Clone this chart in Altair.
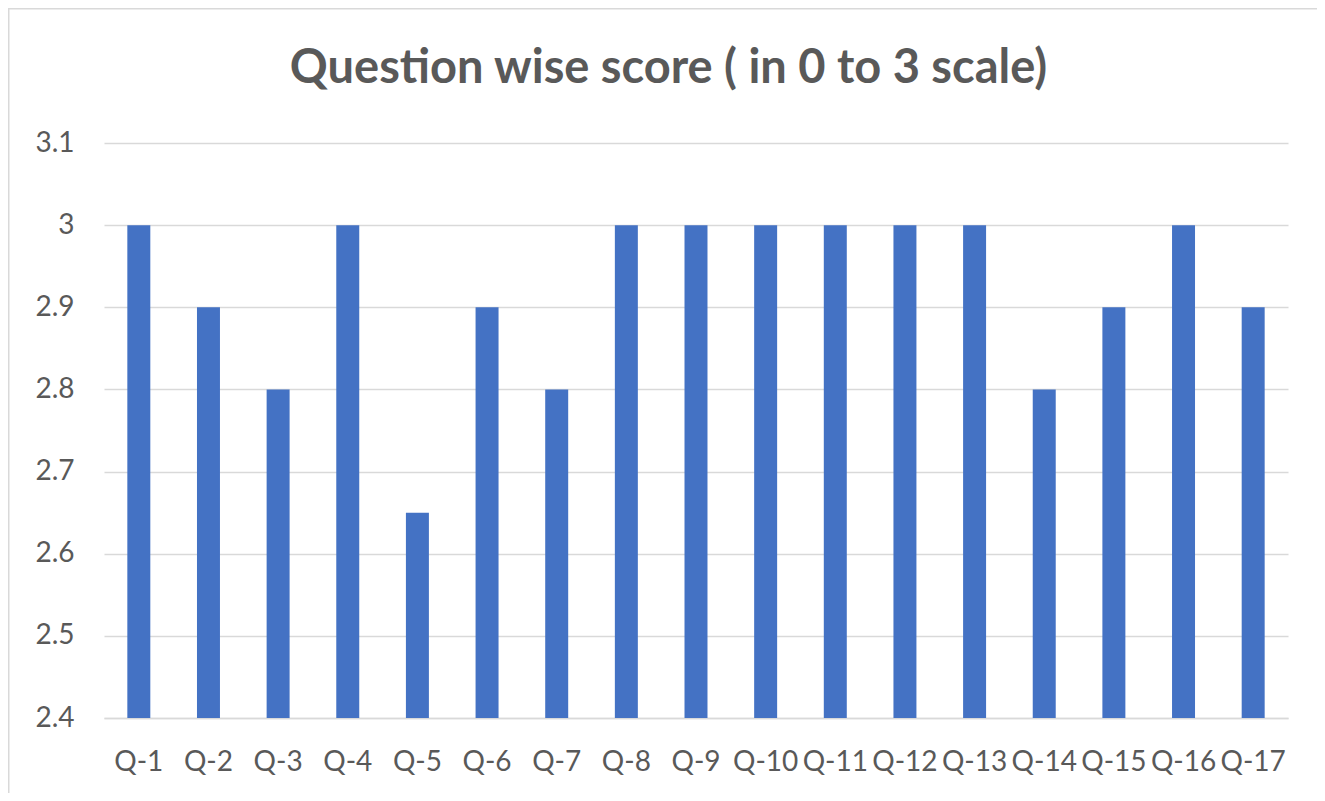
import altair as alt
import pandas as pd

questions = ["Q-1", "Q-2", "Q-3", "Q-4", "Q-5", "Q-6", "Q-7", "Q-8", "Q-9",
             "Q-10", "Q-11", "Q-12", "Q-13", "Q-14", "Q-15", "Q-16", "Q-17"]
scores = [3.0, 2.9, 2.8, 3.0, 2.65, 2.9, 2.8, 3.0, 3.0,
          3.0, 3.0, 3.0, 3.0, 2.8, 2.9, 3.0, 2.9]
y_ticks = [2.4, 2.5, 2.6, 2.7, 2.8, 2.9, 3.0, 3.1]
title_text = "Question wise score ( in 0 to 3 scale)"

df = pd.DataFrame({"question": questions, "score": scores})
title_df = pd.DataFrame({"t": [title_text]})

FONT = "Lato"
TEXT_COLOR = "#595959"
GRID = "#D9D9D9"

W, H = 1184, 575
PAD_L, PAD_T, PAD_R, PAD_B = 96, 135, 29, 75

bars = alt.Chart(df).mark_bar(color="#4472C4", clip=True).encode(
    x=alt.X("question:N", sort=questions,
            scale=alt.Scale(paddingInner=0.67, paddingOuter=0.335),
            axis=alt.Axis(title=None, labelAngle=0, ticks=False, domain=True,
                          domainColor=GRID, domainWidth=1.5,
                          labelFontSize=28, labelColor=TEXT_COLOR,
                          labelFont=FONT, labelPadding=30, grid=False,
                          labelOverlap=False)),
    y=alt.Y("score:Q",
            scale=alt.Scale(domain=[2.4, 3.1], zero=False, nice=False),
            axis=alt.Axis(title=None, values=y_ticks, ticks=False, domain=False,
                          gridColor=GRID, gridWidth=1.5,
                          labelFontSize=28, labelColor=TEXT_COLOR,
                          labelFont=FONT, labelPadding=30,
                          labelExpr="datum.value == 3 ? '3' : format(datum.value, '.1f')")),
)

title = alt.Chart(title_df).mark_text(
    font=FONT, fontSize=47, fontWeight="bold", color=TEXT_COLOR,
    align="center", baseline="alphabetic"
).encode(text="t:N", x=alt.value(564.5), y=alt.value(-60))

border_top = alt.Chart(title_df).mark_rule(color=GRID, strokeWidth=2).encode(
    x=alt.value(-PAD_L), x2=alt.value(W + PAD_R), y=alt.value(-PAD_T + 0.5)
)
border_left = alt.Chart(title_df).mark_rule(color=GRID, strokeWidth=2).encode(
    x=alt.value(-PAD_L + 0.5), y=alt.value(-PAD_T), y2=alt.value(H + PAD_B)
)

chart = alt.layer(bars, title, border_top, border_left).properties(
    width=W, height=H,
    autosize=alt.AutoSizeParams(type="none"),
    padding={"left": PAD_L, "top": PAD_T, "right": PAD_R, "bottom": PAD_B},
).configure(background="white").configure_view(stroke=None)

chart.save("out.html", embed_options={"renderer": "svg", "actions": False})
